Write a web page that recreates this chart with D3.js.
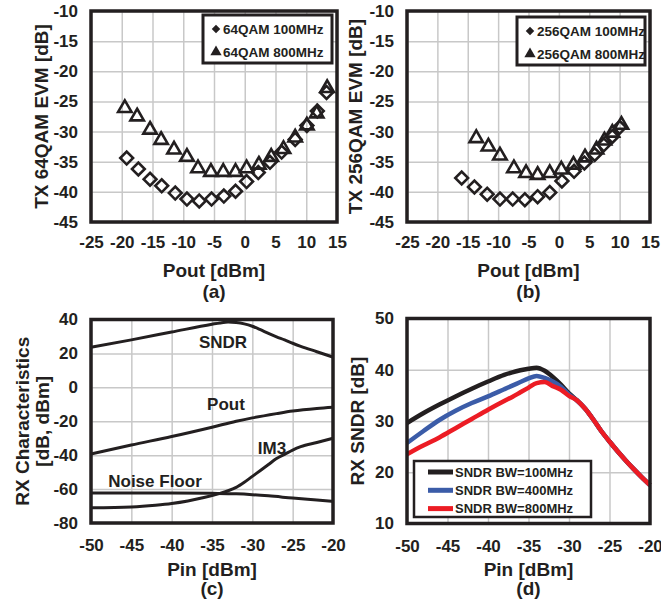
<!DOCTYPE html>
<html>
<head>
<meta charset="utf-8">
<script src="https://cdn.jsdelivr.net/npm/d3@7"></script>
<style>
body { margin: 0; background: #fff; }
text { font-family: "Liberation Sans", Arial, sans-serif; font-weight: bold; fill: #231f20; }
</style>
</head>
<body>
<script>
// ---- (a) TX 64QAM EVM ----
var a100_pout = [-19.2, -17.3, -15.4, -13.5, -11.3, -9.4, -7.4, -5.4, -3.4, -1.5, 0.3, 2.2, 4.1, 6.0, 8.2, 10.1, 11.8, 13.3];
var a100_evm  = [-34.4, -36.2, -37.9, -39.0, -40.2, -41.2, -41.5, -41.2, -40.7, -39.9, -38.3, -36.8, -35.1, -33.4, -31.3, -29.0, -26.6, -23.5];
var a800_pout = [-19.5, -17.5, -15.4, -13.6, -11.5, -9.4, -7.6, -5.5, -3.5, -1.5, 0.3, 2.3, 4.3, 6.3, 8.2, 10.1, 11.7, 13.4];
var a800_evm  = [-26.1, -27.5, -29.7, -31.4, -33.0, -34.2, -36.1, -36.7, -36.7, -36.7, -36.1, -35.5, -34.2, -32.9, -31.0, -29.0, -27.0, -22.8];

// ---- (b) TX 256QAM EVM ----
var b100_pout = [-16.0, -13.9, -11.8, -9.7, -7.6, -5.6, -3.5, -1.5, 0.5, 2.5, 4.2, 5.9, 7.4, 8.8, 10.0];
var b100_evm  = [-37.7, -39.2, -40.4, -41.2, -41.2, -41.3, -40.8, -40.1, -38.2, -36.6, -35.2, -33.8, -32.2, -30.8, -29.3];
var b800_pout = [-13.6, -11.6, -9.7, -7.4, -5.4, -3.5, -1.5, 0.4, 2.4, 4.3, 6.2, 7.5, 8.8, 10.3];
var b800_evm  = [-31.1, -32.5, -34.0, -36.1, -36.9, -37.2, -36.9, -36.3, -35.5, -34.3, -33.0, -31.5, -30.2, -28.9];

var evmTicks  = [-10, -15, -20, -25, -30, -35, -40, -45];
var poutTicks = [-25, -20, -15, -10, -5, 0, 5, 10, 15];

// ---- (c) RX characteristics ----
var sndr_pin = [-50, -45, -40, -35, -34, -33, -32, -31, -30, -29, -28, -27, -26, -25, -24, -22, -20];
var sndr_val = [23.6, 28, 32.6, 37.2, 38, 38.5, 38.2, 37.4, 36, 34, 31.8, 29.8, 28, 26, 24.2, 21, 17.8];
var pout_pin = [-50, -45, -40, -35, -32, -30, -27, -25, -22, -20];
var pout_val = [-39.3, -34, -29, -23.5, -20, -18, -15.5, -14, -12.5, -11.8];
var im3_pin  = [-50, -45, -42, -40, -38, -36, -34, -33, -32, -31, -30, -29, -28, -27, -26, -25, -24, -22, -20];
var im3_val  = [-71, -70.5, -69.5, -68.5, -67, -65, -62.5, -61, -59, -56, -52.5, -49, -45.5, -42, -39.5, -37, -35, -32.5, -30];
var nf_pin   = [-50, -40, -35, -32, -30, -28, -25, -22, -20];
var nf_val   = [-62.3, -62.3, -62.5, -62.8, -63.3, -64, -65.3, -66.5, -67.3];
var rxTicks  = [40, 20, 0, -20, -40, -60, -80];
var pinTicks = [-50, -45, -40, -35, -30, -25, -20];

// ---- (d) RX SNDR vs bandwidth ----
var d_pin    = [-50, -48, -46, -44, -42, -40, -38, -37, -36, -35, -34, -33, -32, -31, -30];
var d_bw100  = [29.6, 31.5, 33.2, 34.8, 36.3, 37.7, 39.0, 39.5, 39.9, 40.2, 40.4, 39.8, 38.6, 37.1, 35.4];
var d_bw400  = [25.7, 28.0, 30.2, 32.0, 33.5, 34.8, 36.2, 36.9, 37.6, 38.3, 38.8, 38.4, 37.7, 36.7, 35.2];
var d_bw800  = [23.5, 25.2, 26.8, 28.6, 30.4, 32.2, 33.9, 34.7, 35.6, 36.5, 37.4, 37.6, 36.8, 36.1, 34.9];
var tail_pin = [-29, -28, -27, -26, -25, -24, -23, -22, -21, -20];
var tail_val = [34.0, 32.4, 30.3, 28.0, 26.0, 24.1, 22.3, 20.6, 19.0, 17.5];
var sndrTicks = [50, 40, 30, 20, 10];
var bwNames  = ["SNDR BW=100MHz", "SNDR BW=400MHz", "SNDR BW=800MHz"];
var bwColors = ["#231f20", "#3b5ca8", "#ec1c24"];

var ink = "#231f20";
var svg = d3.select("body").append("svg")
  .attr("width", 661)
  .attr("height", 603);

// plain hyphen minus like the original figure
var fmt = d => String(d);

// builds one framed panel with grid and tick labels, returns scales
function panel(p) {
  var x = d3.scaleLinear().domain(p.xd).range([p.l, p.r]);
  var y = d3.scaleLinear().domain(p.yd).range([p.b, p.t]);
  var g = svg.append("g");

  // grid
  g.append("g").attr("transform", "translate(0," + p.b + ")")
    .call(d3.axisBottom(x).tickValues(p.xt).tickSize(-(p.b - p.t)).tickFormat(""))
    .call(s => s.select(".domain").remove())
    .selectAll("line").attr("stroke", "#c8c8c8").attr("stroke-width", 1.5);
  g.append("g").attr("transform", "translate(" + p.l + ",0)")
    .call(d3.axisLeft(y).tickValues(p.yt).tickSize(-(p.r - p.l)).tickFormat(""))
    .call(s => s.select(".domain").remove())
    .selectAll("line").attr("stroke", "#c8c8c8").attr("stroke-width", 1.5);

  // tick labels
  g.append("g").attr("transform", "translate(0," + p.b + ")")
    .call(d3.axisBottom(x).tickValues(p.xt).tickSize(0).tickPadding(p.xpad || 14).tickFormat(fmt))
    .call(s => s.select(".domain").remove())
    .selectAll("text").style("font-size", "17px").attr("fill", ink);
  g.append("g").attr("transform", "translate(" + p.l + ",0)")
    .call(d3.axisLeft(y).tickValues(p.yt).tickSize(0).tickPadding(13).tickFormat(fmt))
    .call(s => s.select(".domain").remove())
    .selectAll("text").style("font-size", "17px").attr("fill", ink);

  // titles
  var cx = (p.l + p.r) / 2;
  g.append("text").attr("x", cx).attr("y", p.xTitleY).attr("text-anchor", "middle")
    .style("font-size", "19px").text(p.xTitle);
  g.append("text").attr("x", cx).attr("y", p.tagY).attr("text-anchor", "middle")
    .style("font-size", "19px").text(p.tag);
  var cy = (p.t + p.b) / 2;
  p.yTitle.forEach(function(line, i) {
    var tx = p.yTitleX[i];
    g.append("text").attr("transform", "translate(" + tx + "," + cy + ") rotate(-90)")
      .attr("text-anchor", "middle").attr("dy", "0.35em")
      .style("font-size", "19px").text(line);
  });

  var plot = svg.append("g");
  return {x: x, y: y, plot: plot, p: p};
}

function frame(P) {
  var p = P.p;
  svg.append("rect").attr("x", p.l).attr("y", p.t)
    .attr("width", p.r - p.l).attr("height", p.b - p.t)
    .attr("fill", "none").attr("stroke", ink).attr("stroke-width", 3.5);
}

var diamond = d3.symbol().type(d3.symbolSquare).size(82)();
var triangle = d3.symbol().type(d3.symbolTriangle).size(78)();

function markers(P, xs, ys, kind) {
  P.plot.selectAll(null).data(d3.zip(xs, ys)).enter().append("path")
    .attr("d", kind == "d" ? diamond : triangle)
    .attr("transform", d => "translate(" + P.x(d[0]) + "," + P.y(d[1]) + ")" + (kind == "d" ? " rotate(45)" : ""))
    .attr("fill", "none").attr("stroke", ink).attr("stroke-width", 2.6);
}

function evmLegend(x0, y0, w, names) {
  var lg = svg.append("g");
  lg.append("rect").attr("x", x0).attr("y", y0).attr("width", w).attr("height", 48)
    .attr("fill", "#fff").attr("stroke", ink).attr("stroke-width", 3);
  lg.append("path").attr("d", d3.symbol().type(d3.symbolSquare).size(36)())
    .attr("transform", "translate(" + (x0 + 13) + "," + (y0 + 14) + ") rotate(45)").attr("fill", ink);
  lg.append("path").attr("d", d3.symbol().type(d3.symbolTriangle).size(55)())
    .attr("transform", "translate(" + (x0 + 13) + "," + (y0 + 37) + ")").attr("fill", ink);
  names.forEach(function(n, i) {
    lg.append("text").attr("x", x0 + 20).attr("y", y0 + 14 + i * 23).attr("dy", "0.35em")
      .style("font-size", "13.5px").text(n);
  });
}

// (a)
var A = panel({xd: [-25, 15], yd: [-45, -10], l: 91, r: 337, t: 11, b: 222,
  xt: poutTicks, yt: evmTicks, xTitle: "Pout [dBm]", xTitleY: 277, tag: "(a)", tagY: 298,
  yTitle: ["TX 64QAM EVM [dB]"], yTitleX: [41]});
markers(A, a800_pout, a800_evm, "t");
markers(A, a100_pout, a100_evm, "d");
frame(A);
evmLegend(203, 15, 129, ["64QAM 100MHz", "64QAM 800MHz"]);

// (b)
var B = panel({xd: [-25, 15], yd: [-45, -10], l: 407, r: 650, t: 11, b: 222,
  xt: poutTicks, yt: evmTicks, xTitle: "Pout [dBm]", xTitleY: 277, tag: "(b)", tagY: 298,
  yTitle: ["TX 256QAM EVM [dB]"], yTitleX: [355]});
markers(B, b800_pout, b800_evm, "t");
markers(B, b100_pout, b100_evm, "d");
frame(B);
evmLegend(517, 17, 128, ["256QAM 100MHz", "256QAM 800MHz"]);

// (c)
var C = panel({xd: [-50, -20], yd: [-80, 40], l: 91, r: 333, t: 319.5, b: 523,
  xt: pinTicks, yt: rxTicks, xTitle: "Pin [dBm]", xTitleY: 576, tag: "(c)", tagY: 595, xpad: 16,
  yTitle: ["RX Characteristics", "[dB, dBm]"], yTitleX: [22, 42]});
var lineC = d3.line().x(d => C.x(d[0])).y(d => C.y(d[1])).curve(d3.curveMonotoneX);
[[sndr_pin, sndr_val], [pout_pin, pout_val], [nf_pin, nf_val], [im3_pin, im3_val]].forEach(function(s) {
  C.plot.append("path").attr("d", lineC(d3.zip(s[0], s[1])))
    .attr("fill", "none").attr("stroke", ink).attr("stroke-width", 3);
});
[["SNDR", 223, 342], ["Pout", 226, 404], ["IM3", 272, 448], ["Noise Floor", 155, 481]].forEach(function(l) {
  C.plot.append("text").attr("x", l[1]).attr("y", l[2]).attr("dy", "0.35em")
    .attr("text-anchor", "middle").style("font-size", "17px").text(l[0]);
});
frame(C);

// (d)
var D = panel({xd: [-50, -20], yd: [10, 50], l: 407, r: 650, t: 318.5, b: 523.5,
  xt: pinTicks, yt: sndrTicks, xTitle: "Pin [dBm]", xTitleY: 576, tag: "(d)", tagY: 595, xpad: 16,
  yTitle: ["RX SNDR [dB]"], yTitleX: [357]});
var lineD = d3.line().x(d => D.x(d[0])).y(d => D.y(d[1])).curve(d3.curveMonotoneX);
[d_bw100, d_bw400, d_bw800].forEach(function(vals, i) {
  var pts = d3.zip(d_pin.concat(tail_pin), vals.concat(tail_val));
  D.plot.append("path").attr("d", lineD(pts))
    .attr("fill", "none").attr("stroke", bwColors[i]).attr("stroke-width", 4.5);
});
frame(D);
var lgD = svg.append("g");
lgD.append("rect").attr("x", 414).attr("y", 461).attr("width", 177).attr("height", 56)
  .attr("fill", "#fff").attr("stroke", ink).attr("stroke-width", 2.5);
bwNames.forEach(function(n, i) {
  var yy = 472 + i * 18.3;
  lgD.append("line").attr("x1", 428).attr("x2", 453).attr("y1", yy).attr("y2", yy)
    .attr("stroke", bwColors[i]).attr("stroke-width", 5);
  lgD.append("text").attr("x", 455).attr("y", yy).attr("dy", "0.35em")
    .style("font-size", "13px").text(n);
});
</script>
</body>
</html>
